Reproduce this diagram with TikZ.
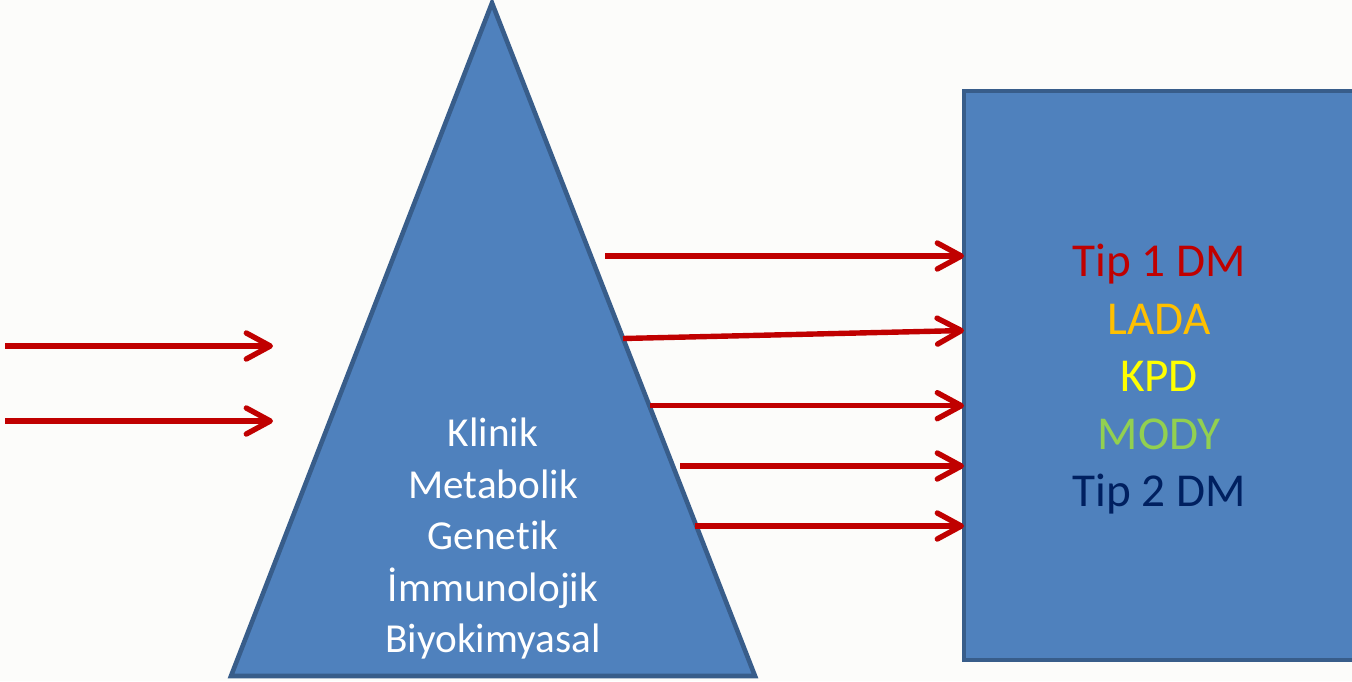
\documentclass[tikz,border=0pt]{standalone}
\usepackage{fontspec}
\setmainfont[Ligatures=NoCommon]{Carlito}
\usetikzlibrary{arrows.meta}
\definecolor{paper}{RGB}{252,252,250}
\definecolor{shapefill}{RGB}{79,129,189}
\definecolor{shapeline}{RGB}{56,93,138}
\definecolor{arrowred}{RGB}{192,0,0}
\definecolor{ladaorange}{RGB}{255,192,0}
\definecolor{kpdyellow}{RGB}{255,255,0}
\definecolor{modygreen}{RGB}{146,208,80}
\definecolor{navy}{RGB}{0,32,96}
\tikzset{
  blueshape/.style={fill=shapefill, draw=shapeline, line width=2.3pt, line join=miter},
  flow/.style={draw=arrowred, line width=2.7pt,
    -{Straight Barb[length=12pt, width=13pt, line cap=round, line join=round]}},
  factor/.style={anchor=base, text=white, font=\fontsize{20.6}{24}\selectfont, inner sep=0pt},
  dmtype/.style={anchor=base, font=\fontsize{23.6}{28}\selectfont, inner sep=0pt},
}
\begin{document}
\begin{tikzpicture}[x=0.5pt, y=-0.5pt]
  \useasboundingbox (0,0) rectangle (1352,681);
  \fill[paper] (0,0) rectangle (1352,681);
  \clip (0,0) rectangle (1352,681);

  % pyramid of diagnostic criteria
  \draw[blueshape] (492,3) -- (755,676) -- (231,676) -- cycle;
  % box of diabetes types (runs past the right edge)
  \draw[blueshape] (964,91) rectangle (1370,660);

  \node[factor] (klinik) at (493,446.7) {Klinik};
  \node[factor] (metabolik) at (493,498.2) {Metabolik};
  \node[factor] (genetik) at (493,549.5) {Genetik};
  \node[factor] (immuno) at (493,601) {İmmunolojik};
  \node[factor] (biyo) at (493,652) {Biyokimyasal};

  \node[dmtype, text=arrowred] (tip1) at (1159,276.7) {Tip 1 DM};
  \node[dmtype, text=ladaorange] (lada) at (1159,334) {LADA};
  \node[dmtype, text=kpdyellow] (kpd) at (1159,391.5) {KPD};
  \node[dmtype, text=modygreen] (mody) at (1159,449) {MODY};
  \node[dmtype, text=navy] (tip2) at (1159,506.7) {Tip 2 DM};

  % incoming arrows
  \coordinate (inA) at (5,346);
  \coordinate (inAend) at (273,346);
  \coordinate (inB) at (5,421);
  \coordinate (inBend) at (273,421);
  \draw[flow] (inA) -- (inAend);
  \draw[flow] (inB) -- (inBend);

  % outgoing arrows from pyramid to box
  \coordinate (o1) at (605,256);
  \coordinate (e1) at (964,256);
  \coordinate (o2) at (623,338.5);
  \coordinate (e2) at (964,330.5);
  \coordinate (o3) at (650,405.7);
  \coordinate (e3) at (964,405.7);
  \coordinate (o4) at (680,466);
  \coordinate (e4) at (964,466);
  \coordinate (o5) at (695,526);
  \coordinate (e5) at (964,526);
  \foreach \i in {1,...,5} \draw[flow] (o\i) -- (e\i);
\end{tikzpicture}
\end{document}
